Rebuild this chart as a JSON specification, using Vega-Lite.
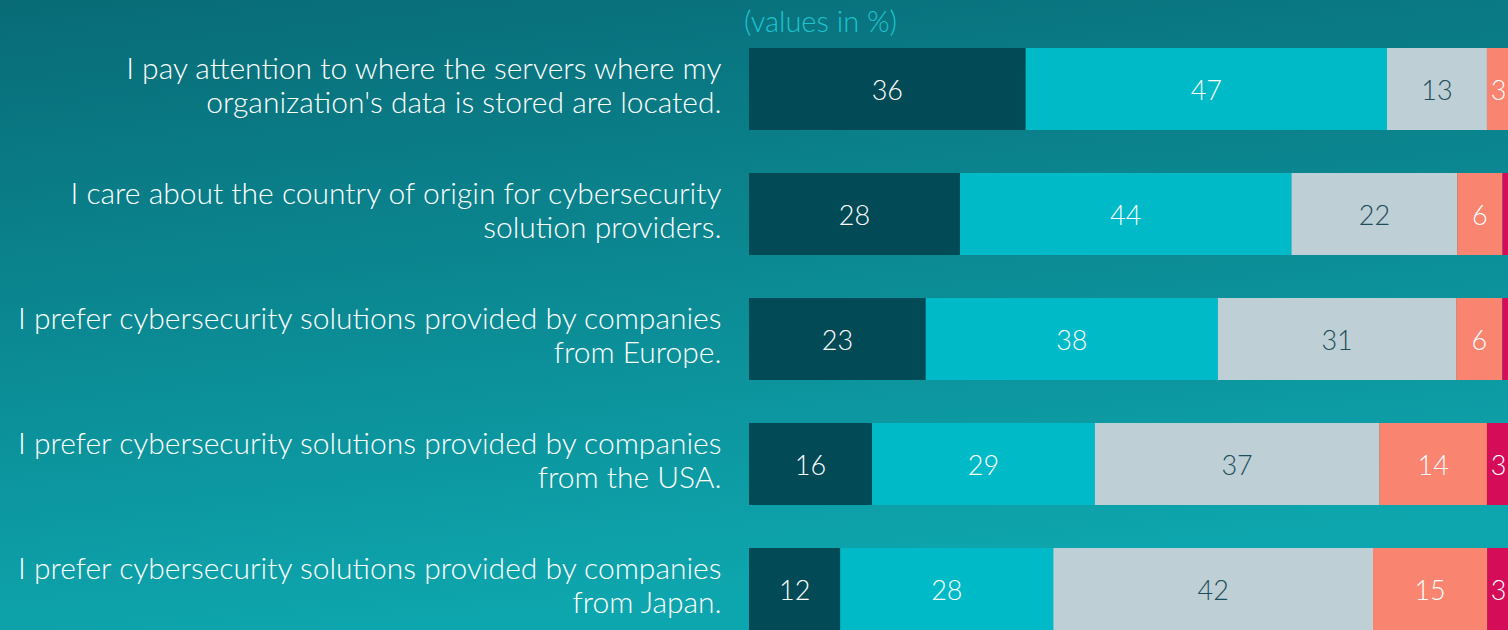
{
  "$schema": "https://vega.github.io/schema/vega-lite/v6.json",
  "width": 1508,
  "height": 630,
  "autosize": {"type": "fit", "contains": "padding"},
  "padding": 0,
  "background": "#0b8a93",
  "config": {
    "font": "Lato",
    "view": {
      "stroke": null,
      "fill": {
        "gradient": "linear",
        "x1": 0, "y1": 0, "x2": 0.25, "y2": 1,
        "stops": [
          {"offset": 0, "color": "#086b76"},
          {"offset": 1, "color": "#0ea6ae"}
        ]
      }
    }
  },
  "data": {
    "values": [
      {"statement": "I pay attention to where the servers where my\norganization's data is stored are located.", "answer": "Strongly agree", "rank": 1, "value": 36},
      {"statement": "I pay attention to where the servers where my\norganization's data is stored are located.", "answer": "Somewhat agree", "rank": 2, "value": 47},
      {"statement": "I pay attention to where the servers where my\norganization's data is stored are located.", "answer": "Neutral", "rank": 3, "value": 13},
      {"statement": "I pay attention to where the servers where my\norganization's data is stored are located.", "answer": "Somewhat disagree", "rank": 4, "value": 3},
      {"statement": "I care about the country of origin for cybersecurity\nsolution providers.", "answer": "Strongly agree", "rank": 1, "value": 28},
      {"statement": "I care about the country of origin for cybersecurity\nsolution providers.", "answer": "Somewhat agree", "rank": 2, "value": 44},
      {"statement": "I care about the country of origin for cybersecurity\nsolution providers.", "answer": "Neutral", "rank": 3, "value": 22},
      {"statement": "I care about the country of origin for cybersecurity\nsolution providers.", "answer": "Somewhat disagree", "rank": 4, "value": 6},
      {"statement": "I care about the country of origin for cybersecurity\nsolution providers.", "answer": "Strongly disagree", "rank": 5, "value": 1},
      {"statement": "I prefer cybersecurity solutions provided by companies\nfrom Europe.", "answer": "Strongly agree", "rank": 1, "value": 23},
      {"statement": "I prefer cybersecurity solutions provided by companies\nfrom Europe.", "answer": "Somewhat agree", "rank": 2, "value": 38},
      {"statement": "I prefer cybersecurity solutions provided by companies\nfrom Europe.", "answer": "Neutral", "rank": 3, "value": 31},
      {"statement": "I prefer cybersecurity solutions provided by companies\nfrom Europe.", "answer": "Somewhat disagree", "rank": 4, "value": 6},
      {"statement": "I prefer cybersecurity solutions provided by companies\nfrom Europe.", "answer": "Strongly disagree", "rank": 5, "value": 1},
      {"statement": "I prefer cybersecurity solutions provided by companies\nfrom the USA.", "answer": "Strongly agree", "rank": 1, "value": 16},
      {"statement": "I prefer cybersecurity solutions provided by companies\nfrom the USA.", "answer": "Somewhat agree", "rank": 2, "value": 29},
      {"statement": "I prefer cybersecurity solutions provided by companies\nfrom the USA.", "answer": "Neutral", "rank": 3, "value": 37},
      {"statement": "I prefer cybersecurity solutions provided by companies\nfrom the USA.", "answer": "Somewhat disagree", "rank": 4, "value": 14},
      {"statement": "I prefer cybersecurity solutions provided by companies\nfrom the USA.", "answer": "Strongly disagree", "rank": 5, "value": 3},
      {"statement": "I prefer cybersecurity solutions provided by companies\nfrom Japan.", "answer": "Strongly agree", "rank": 1, "value": 12},
      {"statement": "I prefer cybersecurity solutions provided by companies\nfrom Japan.", "answer": "Somewhat agree", "rank": 2, "value": 28},
      {"statement": "I prefer cybersecurity solutions provided by companies\nfrom Japan.", "answer": "Neutral", "rank": 3, "value": 42},
      {"statement": "I prefer cybersecurity solutions provided by companies\nfrom Japan.", "answer": "Somewhat disagree", "rank": 4, "value": 15},
      {"statement": "I prefer cybersecurity solutions provided by companies\nfrom Japan.", "answer": "Strongly disagree", "rank": 5, "value": 3}
    ]
  },
  "encoding": {
    "y": {
      "field": "statement",
      "type": "nominal",
      "sort": null,
      "scale": {"paddingInner": 0.344, "paddingOuter": 0.192, "align": 1},
      "axis": {
        "title": null,
        "orient": "left",
        "offset": -731,
        "labelPadding": 10,
        "labelOffset": -19,
        "ticks": false,
        "tickSize": 0,
        "domain": false,
        "grid": false,
        "labelFont": "Lato",
        "labelFontSize": 30,
        "labelFontWeight": 300,
        "labelColor": "#ffffff",
        "labelLineHeight": 34,
        "labelLimit": 0,
        "labelAlign": "right",
        "labelBaseline": "middle",
        "labelExpr": "split(datum.label, '\\n')"
      }
    },
    "order": {"field": "rank", "type": "quantitative"}
  },
  "layer": [
    {
      "mark": {"type": "bar", "clip": true},
      "encoding": {
        "x": {
          "field": "value",
          "type": "quantitative",
          "stack": "normalize",
          "scale": {"domain": [-0.9842, 0.99737], "nice": false, "zero": false},
          "axis": {
            "orient": "top",
            "labels": false,
            "ticks": false,
            "domain": false,
            "grid": false,
            "title": "(values in %)",
            "titleColor": "#1cc3cf",
            "titleFont": "Lato",
            "titleFontSize": 29,
            "titleFontWeight": 300,
            "titleAlign": "center",
            "titleBaseline": "middle",
            "titleX": 820,
            "titleY": 22
          }
        },
        "color": {
          "field": "answer",
          "type": "nominal",
          "legend": null,
          "scale": {
            "domain": ["Strongly agree", "Somewhat agree", "Neutral", "Somewhat disagree", "Strongly disagree"],
            "range": ["#024a55", "#00bac8", "#bed0d6", "#f9846f", "#d50c57"]
          }
        }
      }
    },
    {
      "mark": {"type": "text", "font": "Lato", "fontSize": 27, "fontWeight": 300, "dy": 3, "clip": true},
      "encoding": {
        "x": {
          "field": "value",
          "type": "quantitative",
          "stack": "normalize",
          "bandPosition": 0.5,
          "scale": {"domain": [-0.9842, 0.99737], "nice": false, "zero": false},
          "axis": {
            "orient": "top",
            "labels": false,
            "ticks": false,
            "domain": false,
            "grid": false,
            "title": "(values in %)",
            "titleColor": "#1cc3cf",
            "titleFont": "Lato",
            "titleFontSize": 29,
            "titleFontWeight": 300,
            "titleAlign": "center",
            "titleBaseline": "middle",
            "titleX": 820,
            "titleY": 22
          }
        },
        "detail": {"field": "answer", "type": "nominal"},
        "text": {"condition": {"test": "datum.value > 1", "field": "value", "type": "quantitative"}, "value": ""},
        "color": {"condition": {"test": "datum.answer === 'Neutral'", "value": "#1d4d5a"}, "value": "#ffffff"}
      }
    }
  ]
}
